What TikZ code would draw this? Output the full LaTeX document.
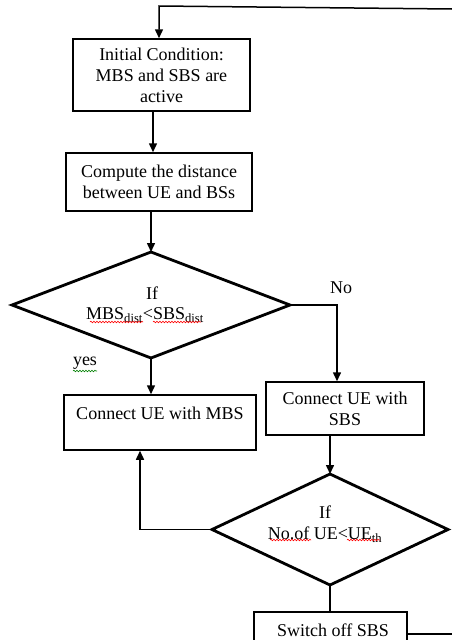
\documentclass[tikz,border=0pt]{standalone}
\usepackage{fontspec}
\setmainfont{Liberation Serif}
\usetikzlibrary{arrows.meta,shapes.geometric,decorations.pathmorphing}
\begin{document}
\begin{tikzpicture}[x=1pt,y=-1pt,
  box/.style={draw,line width=1.5pt,inner sep=0pt,align=center,font=\fontsize{18}{21}\selectfont},
  dia/.style={draw,diamond,line width=2.8pt,inner sep=0pt,outer sep=0pt},
  txt/.style={inner sep=0pt,align=center,font=\fontsize{18}{21}\selectfont},
  arr/.style={line width=1.5pt,-{Triangle[length=9pt,width=8pt]}},
  ln/.style={line width=1.5pt},
  thick line/.style={line width=2.8pt},
  squig/.style={line width=0.6pt,decorate,decoration={snake,amplitude=0.8pt,segment length=3pt}}
]
\useasboundingbox (0,0) rectangle (452,640);
\clip (0,0) rectangle (452,640);

% boxes
\node[box,minimum width=177pt,minimum height=72pt] (b1) at (161.5,75) {Initial Condition:\\MBS and SBS are\\active};
\node[box,minimum width=186pt,minimum height=58pt] (b2) at (159,182) {Compute the distance\\between UE and BSs};
\node[box,minimum width=192pt,minimum height=55pt] (mbs) at (160,422.5) {};
\node[txt] (mbst) at (160,413) {Connect UE with MBS};
\node[box,minimum width=158pt,minimum height=53pt] (sbs) at (345,408.5) {Connect UE with\\SBS};
\node[box,minimum width=153pt,minimum height=50pt] (sw) at (330.5,637) {};
\node[txt] (swt) at (333,630) {Switch off SBS};

% diamonds
\node[dia,minimum width=278pt,minimum height=106pt] (d1) at (151,305) {};
\node[txt] (d1a) at (152,293) {If};
\node[txt] (d1b) at (145,315) {MBS\textsubscript{dist}<SBS\textsubscript{dist}};
\node[dia,minimum width=236pt,minimum height=111pt] (d2) at (330,529.5) {};
\node[txt] (d2a) at (325,512) {If};
\node[txt] (d2b) at (325,535) {No.of UE<UE\textsubscript{th}};

% labels
\node[txt] (no) at (341,288) {No};
\node[txt] (yes) at (85,363) {yes};

% spell-check squiggles
\draw[squig,red] (90,322) -- (143,322);
\draw[squig,red] (153,322) -- (201,322);
\draw[squig,red] (270,540) -- (311,540);
\draw[squig,red] (347,540) -- (380,540);
\draw[squig,green!50!black] (73,371) -- (97,371);

% connectors
\coordinate (t0) at (452,9);
\coordinate (t1) at (159,6);
\draw[arr] (t0) -- (t1) -- (t1 |- b1.north);
\draw[arr] ([xshift=-8.5pt]b1.south) -- ([xshift=-6pt]b2.north);
\draw[arr] (b2.south -| d1.north) -- (d1.north);
\draw[arr] (d1.east) -| ([xshift=-8pt]sbs.north);
\draw[arr] (d1.south) -- (d1.south |- mbs.north);
\draw[arr] (sbs.south -| d2.north) -- (d2.north);
\draw[arr] (d2.west) -| ([xshift=-20pt]mbs.south);
\draw[thick line] (d2.south) -- (d2.south |- sw.north);
\coordinate (r1) at (452,634);
\draw[ln] (sw.east |- r1) -- (r1);
\end{tikzpicture}
\end{document}
